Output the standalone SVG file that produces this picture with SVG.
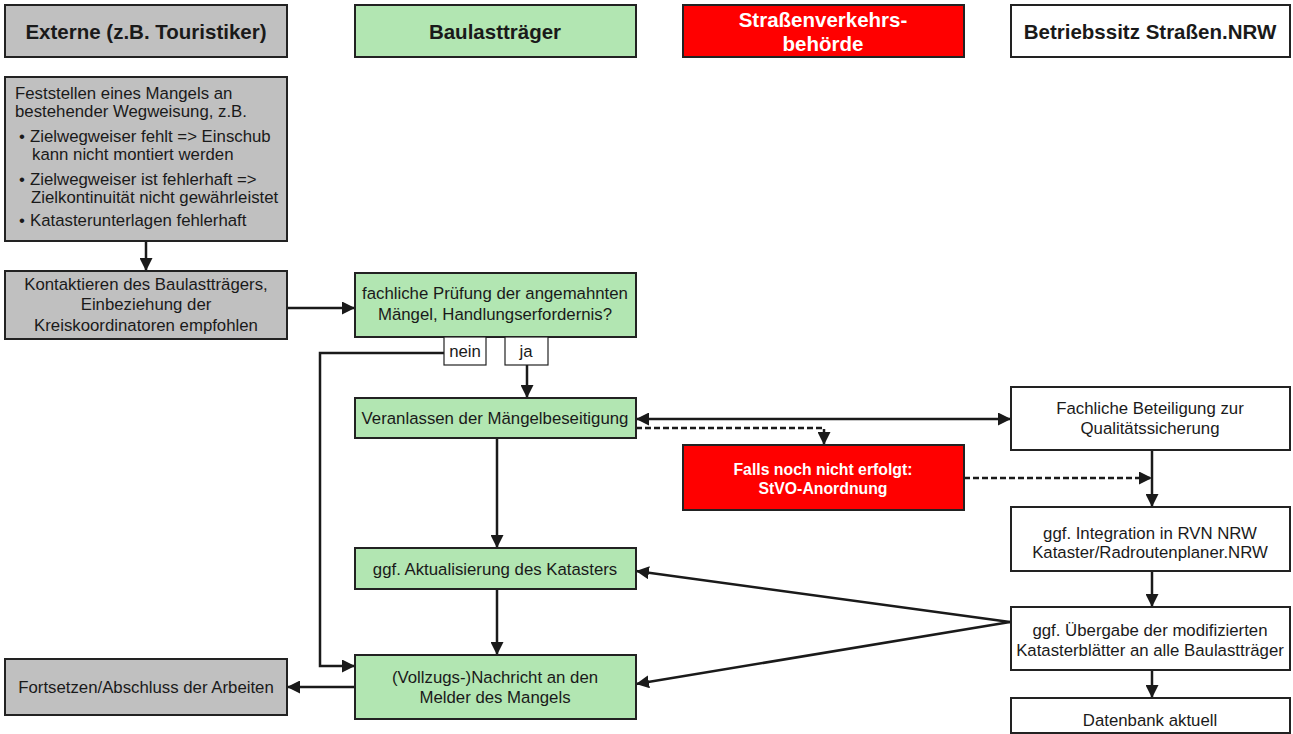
<svg xmlns="http://www.w3.org/2000/svg" width="1293" height="734" viewBox="0 0 1293 734">
<defs>
<style>
.box{stroke:#222;stroke-width:2}
.gray{fill:#c0c0c0}
.green{fill:#b2e6b2}
.red{fill:#ff0000}
.white{fill:#ffffff}
.lbl{fill:#ffffff;stroke:#222;stroke-width:1.2}
text{font-family:"Liberation Sans",Arial,sans-serif;font-size:16.8px;fill:#1a1a1a}
.c{text-anchor:middle}
.h{font-weight:bold;font-size:20.5px}
.w{fill:#ffffff}
.rt{fill:#ffffff;font-weight:bold;font-size:15.8px}
.ln{fill:none;stroke:#1a1a1a;stroke-width:2.5}
.ds{fill:none;stroke:#1a1a1a;stroke-width:2.5;stroke-dasharray:6 3}
</style>
<marker id="ah" viewBox="0 0 13 13" refX="13" refY="6.5" markerWidth="13" markerHeight="13" markerUnits="userSpaceOnUse" orient="auto-start-reverse">
<path d="M0,0 L13,6.5 L0,13 z" fill="#1a1a1a"/>
</marker>
</defs>

<g id="connectors">
<path class="ln" d="M146,241 V271" marker-end="url(#ah)"/>
<path class="ln" d="M287,308 H355" marker-end="url(#ah)"/>
<path class="ln" d="M444,353 H320 V666 H355" marker-end="url(#ah)"/>
<path class="ln" d="M527,365 V398" marker-end="url(#ah)"/>
<path class="ln" d="M497,438 V548" marker-end="url(#ah)"/>
<path class="ln" d="M497,589 V655" marker-end="url(#ah)"/>
<path class="ln" d="M355,687 H287" marker-end="url(#ah)"/>
<path class="ln" d="M636,419 H1011" marker-start="url(#ah)" marker-end="url(#ah)"/>
<path class="ds" d="M636,428 H824 V445" marker-end="url(#ah)"/>
<path class="ds" d="M964,478 H1152" marker-end="url(#ah)"/>
<path class="ln" d="M1152,450 V507" marker-end="url(#ah)"/>
<path class="ln" d="M1152,571 V607" marker-end="url(#ah)"/>
<path class="ln" d="M1152,670 V698" marker-end="url(#ah)"/>
<path class="ln" d="M1010,622 L636,571" marker-end="url(#ah)"/>
<path class="ln" d="M1010,622 L636,684" marker-end="url(#ah)"/>
</g>

<g id="hdr-externe">
<rect class="box gray" x="5" y="5" width="282" height="52"/>
<text class="c h" x="146" y="39">Externe (z.B. Touristiker)</text>
</g>
<g id="hdr-baulast">
<rect class="box green" x="355" y="5" width="281" height="52"/>
<text class="c h" x="495" y="39">Baulastträger</text>
</g>
<g id="hdr-svb">
<rect class="box red" x="683" y="5" width="281" height="52"/>
<text class="c h w" x="823" y="27">Straßenverkehrs-</text>
<text class="c h w" x="823" y="51">behörde</text>
</g>
<g id="hdr-betrieb">
<rect class="box white" x="1011" y="5" width="279" height="52"/>
<text class="c h" x="1150" y="39">Betriebssitz Straßen.NRW</text>
</g>

<g id="n-feststellen">
<rect class="box gray" x="5" y="77" width="282" height="164"/>
<text x="15" y="99">Feststellen eines Mangels an</text>
<text x="15" y="117">bestehender Wegweisung, z.B.</text>
<text x="19" y="142">•</text>
<text x="30" y="142">Zielwegweiser fehlt =&gt; Einschub</text>
<text x="32" y="160">kann nicht montiert werden</text>
<text x="19" y="185">•</text>
<text x="30" y="185">Zielwegweiser ist fehlerhaft =&gt;</text>
<text x="31" y="203">Zielkontinuität nicht gewährleistet</text>
<text x="19" y="226">•</text>
<text x="30" y="226">Katasterunterlagen fehlerhaft</text>
</g>

<g id="n-kontakt">
<rect class="box gray" x="5" y="271" width="282" height="68"/>
<text class="c" x="146" y="290">Kontaktieren des Baulastträgers,</text>
<text class="c" x="146" y="310">Einbeziehung der</text>
<text class="c" x="146" y="331">Kreiskoordinatoren empfohlen</text>
</g>

<g id="n-pruefung">
<rect class="box green" x="355" y="273" width="281" height="64"/>
<text class="c" x="495" y="299">fachliche Prüfung der angemahnten</text>
<text class="c" x="495" y="320">Mängel, Handlungserfordernis?</text>
</g>

<g id="l-nein">
<rect class="lbl" x="444" y="337" width="42" height="28"/>
<text class="c" x="465" y="357">nein</text>
</g>
<g id="l-ja">
<rect class="lbl" x="505" y="337" width="43" height="28"/>
<text class="c" x="526" y="357">ja</text>
</g>

<g id="n-veranlassen">
<rect class="box green" x="355" y="398" width="281" height="40"/>
<text class="c" x="495" y="424">Veranlassen der Mängelbeseitigung</text>
</g>

<g id="n-aktualisierung">
<rect class="box green" x="355" y="548" width="281" height="41"/>
<text class="c" x="495" y="575">ggf. Aktualisierung des Katasters</text>
</g>

<g id="n-nachricht">
<rect class="box green" x="355" y="655" width="281" height="64"/>
<text class="c" x="495" y="683">(Vollzugs-)Nachricht an den</text>
<text class="c" x="495" y="703">Melder des Mangels</text>
</g>

<g id="n-fortsetzen">
<rect class="box gray" x="5" y="659" width="282" height="56"/>
<text class="c" x="146" y="693">Fortsetzen/Abschluss der Arbeiten</text>
</g>

<g id="n-stvo">
<rect class="box red" x="683" y="445" width="281" height="65"/>
<text class="c rt" x="823" y="475">Falls noch nicht erfolgt:</text>
<text class="c rt" x="823" y="494">StVO-Anordnung</text>
</g>

<g id="n-beteiligung">
<rect class="box white" x="1011" y="387" width="279" height="63"/>
<text class="c" x="1150" y="414">Fachliche Beteiligung zur</text>
<text class="c" x="1150" y="434">Qualitätssicherung</text>
</g>

<g id="n-integration">
<rect class="box white" x="1011" y="507" width="279" height="64"/>
<text class="c" x="1150" y="539">ggf. Integration in RVN NRW</text>
<text class="c" x="1150" y="558">Kataster/Radroutenplaner.NRW</text>
</g>

<g id="n-uebergabe">
<rect class="box white" x="1011" y="607" width="279" height="63"/>
<text class="c" x="1150" y="636">ggf. Übergabe der modifizierten</text>
<text class="c" x="1150" y="656">Katasterblätter an alle Baulastträger</text>
</g>

<g id="n-datenbank">
<rect class="box white" x="1011" y="698" width="279" height="35"/>
<text class="c" x="1150" y="726">Datenbank aktuell</text>
</g>
</svg>
